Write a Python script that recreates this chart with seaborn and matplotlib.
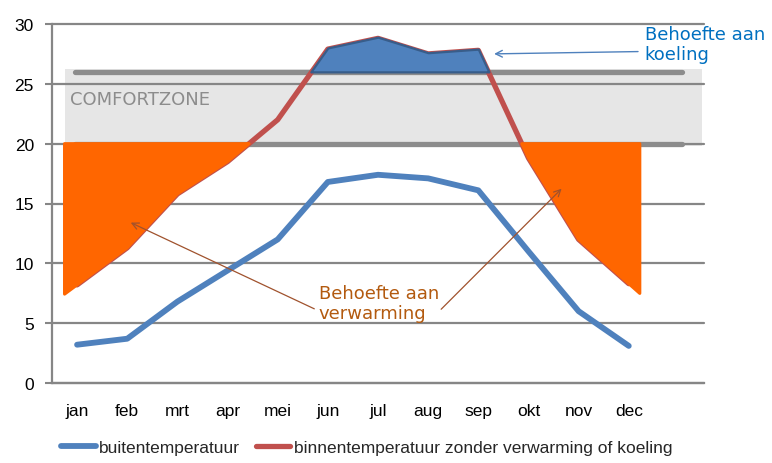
import numpy as np
import pandas as pd
import matplotlib
matplotlib.use("Agg")
import matplotlib.pyplot as plt
import seaborn as sns

# ---- data ----
months = ["jan", "feb", "mrt", "apr", "mei", "jun", "jul", "aug", "sep", "okt", "nov", "dec"]
buiten = [3.2, 3.7, 6.8, 9.4, 12.0, 16.8, 17.4, 17.1, 16.1, 11.0, 6.0, 3.1]
binnen = [8.2, 11.3, 15.8, 18.5, 22.0, 27.9, 28.8, 27.5, 27.8, 18.8, 12.0, 8.3]
comfort_low = 20
comfort_high = 26
y_ticks = [0, 5, 10, 15, 20, 25, 30]
label_buiten = "buitentemperatuur"
label_binnen = "binnentemperatuur zonder verwarming of koeling"
label_comfort = "COMFORTZONE"
label_koeling = "Behoefte aan\nkoeling"
label_verwarming = "Behoefte aan\nverwarming"

df = pd.DataFrame({"idx": np.arange(len(months)), "maand": months,
                   "buiten": buiten, "binnen": binnen})

sns.set_theme(style="white")
plt.rcParams["font.family"] = ["Liberation Sans", "DejaVu Sans"]

W, H = 772, 464
fig = plt.figure(figsize=(W / 100, H / 100), dpi=100)
ax = fig.add_axes([52 / W, 1 - 384 / H, 652 / W, 359 / H])

GRID = "#868686"
ax.set_xlim(-0.5, 12.5)
ax.set_ylim(0, 30)

# comfort zone band
ax.axhspan(comfort_low - 0.2, comfort_high + 0.2, xmin=0.26 / 13,
           xmax=(12.46 + 0.5) / 13, color="#E6E6E6", zorder=0.5, lw=0)
for yv in (comfort_low, comfort_high):
    ax.plot([-0.04, 12.06], [yv, yv], color="#8C8C8C", lw=3.8, solid_capstyle="round", zorder=2)

# lines
sns.lineplot(data=df, x="idx", y="buiten", ax=ax, color="#4F81BD", lw=4.2,
             label=label_buiten, zorder=3)
sns.lineplot(data=df, x="idx", y="binnen", ax=ax, color="#C0504D", lw=3.8,
             label=label_binnen, zorder=3)
for ln in ax.get_lines():
    ln.set_solid_capstyle("round")


def red_at(xs):
    xi = df["idx"].to_numpy(float)
    yi = df["binnen"].to_numpy(float)
    out = np.interp(xs, xi, yi)
    lo = xs < xi[0]
    out[lo] = yi[0] + (xs[lo] - xi[0]) * (yi[1] - yi[0])
    hi = xs > xi[-1]
    out[hi] = yi[-1] + (xs[hi] - xi[-1]) * (yi[-1] - yi[-2])
    return out


xs = np.linspace(-0.25, 11.22, 3000)
rs = red_at(xs)
ax.fill_between(xs, rs, comfort_low, where=(rs < comfort_low) & ((xs < 5) | (xs > 8)),
                interpolate=True, facecolor="#FF6600", edgecolor="#FF6600", lw=2.2,
                joinstyle="round", zorder=4)
ax.fill_between(xs, rs + 0.1, comfort_high, where=(rs + 0.1 > comfort_high) & (xs > 4) & (xs < 9.5),
                interpolate=True, facecolor="#4F81BD", edgecolor="#385D8A", lw=1.6,
                joinstyle="round", zorder=4)

# annotations
ax.text(-0.14, 23.3, label_comfort, color="#8C8C8C", fontsize=13, family="DejaVu Sans",
        va="baseline", ha="left", zorder=5)
ax.text(11.32, 29.9, label_koeling, color="#0070C0", fontsize=13, family="DejaVu Sans",
        va="top", ha="left", zorder=5, clip_on=False, linespacing=1.15)
ax.annotate("", xy=(8.26, 27.5), xytext=(11.24, 27.7),
            arrowprops=dict(arrowstyle="->", color="#4F81BD", lw=1.0), zorder=5)
ax.text(4.82, 8.3, label_verwarming, color="#B35A0F", fontsize=13, family="DejaVu Sans",
        va="top", ha="left", zorder=5, linespacing=1.15)
ax.annotate("", xy=(1.02, 13.5), xytext=(4.78, 6.1),
            arrowprops=dict(arrowstyle="->", color="#A0522D", lw=0.9), zorder=5)
ax.annotate("", xy=(9.7, 16.4), xytext=(7.22, 6.0),
            arrowprops=dict(arrowstyle="->", color="#A0522D", lw=0.9), zorder=5)

# axes styling
ax.set_yticks(y_ticks)
ax.set_yticklabels([str(v) for v in y_ticks], fontsize=12.5, color="black")
ax.set_xticks(range(len(months)))
ax.set_xticklabels(months, fontsize=12.5, color="black")
ax.set_xticks(np.arange(-0.5, 13, 1), minor=True)
ax.tick_params(axis="x", which="major", length=0, pad=14.5)
ax.tick_params(axis="x", which="minor", length=5, width=1.5, color=GRID, direction="out")
ax.tick_params(axis="y", length=5, width=1.5, color=GRID, direction="out", pad=8, left=True)
ax.yaxis.grid(True, color=GRID, lw=1.6, zorder=1)
ax.xaxis.grid(False)
ax.set_axisbelow(True)
for gl in ax.get_ygridlines():
    gl.set_clip_on(False)
for s in ("top", "right"):
    ax.spines[s].set_visible(False)
for s in ("left", "bottom"):
    ax.spines[s].set_color(GRID)
    ax.spines[s].set_linewidth(1.6)
ax.set_xlabel("")
ax.set_ylabel("")

handles, labels = ax.get_legend_handles_labels()
ax.get_legend().remove()
fig.legend(handles, labels, loc="center", bbox_to_anchor=(0.475, 1 - 448 / H), ncol=2,
           frameon=False, fontsize=12.5, handlelength=2.0, handletextpad=0.2,
           columnspacing=0.9, borderpad=0)

fig.savefig("out.png", dpi=100)
